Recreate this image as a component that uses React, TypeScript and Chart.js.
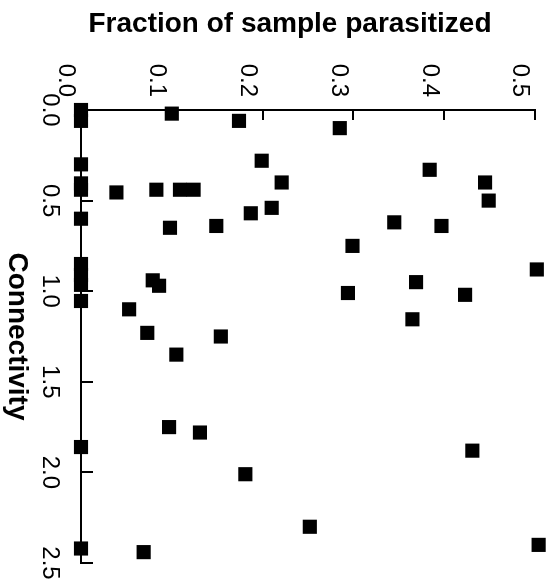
import React, { useEffect, useRef } from "react";
import { Chart, registerables } from "chart.js";

Chart.register(...registerables);

// Connectivity (horizontal axis of the unrotated plot)
const connectivity = [
  0.0, 0.06, 0.3, 0.405, 0.44, 0.6, 0.85, 0.91, 0.965, 1.054, 1.86, 2.42,
  0.02, 0.06, 0.28, 0.4, 0.455, 0.44, 0.44, 0.44, 0.54, 0.57, 0.65, 0.64,
  0.94, 0.97, 1.1, 1.23, 1.25, 1.35, 1.75, 1.78, 2.01, 2.3, 2.44,
  0.1, 0.33, 0.4, 0.5, 0.62, 0.64, 0.75, 0.88, 0.95, 1.01, 1.02, 1.155, 1.88, 2.4,
];

// Fraction of sample parasitized
const fraction = [
  0, 0, 0, 0, 0, 0, 0, 0, 0, 0, 0, 0,
  0.1, 0.174, 0.199, 0.221, 0.039, 0.083, 0.109, 0.124, 0.21, 0.187, 0.098, 0.149,
  0.079, 0.086, 0.053, 0.073, 0.154, 0.105, 0.097, 0.131, 0.181, 0.252, 0.069,
  0.285, 0.384, 0.445, 0.449, 0.345, 0.397, 0.299, 0.502, 0.369, 0.294, 0.423, 0.365, 0.431, 0.504,
];

const connectivityTicks = [0, 0.5, 1.0, 1.5, 2.0, 2.5];
const fractionTicks = [0, 0.1, 0.2, 0.3, 0.4, 0.5];

const xTitle = "Connectivity";
const yTitle = "Fraction of sample parasitized";

const FONT = "'Liberation Sans', Arial, Helvetica, sans-serif";

const decorPlugin = {
  id: "decor",
  afterDraw(chart: any) {
    const ctx = chart.ctx as CanvasRenderingContext2D;
    const xs = chart.scales.x;
    const ys = chart.scales.y;
    const { left, bottom, top } = chart.chartArea;
    ctx.save();
    ctx.strokeStyle = "#000";
    ctx.lineWidth = 2;
    for (const t of xs.ticks) {
      if (t.value === 0) continue;
      const px = Math.round(xs.getPixelForValue(t.value));
      ctx.beginPath();
      ctx.moveTo(px, bottom);
      ctx.lineTo(px, bottom - 12);
      ctx.stroke();
    }
    for (const t of ys.ticks) {
      if (t.value === 0) continue;
      const py = Math.round(ys.getPixelForValue(t.value));
      ctx.beginPath();
      ctx.moveTo(left, py);
      ctx.lineTo(left + 10, py);
      ctx.stroke();
    }
    // y-axis title (rotated)
    ctx.fillStyle = "#000";
    ctx.font = `bold 28px ${FONT}`;
    ctx.textAlign = "center";
    ctx.textBaseline = "alphabetic";
    ctx.translate(32, (top + bottom) / 2 + 18);
    ctx.rotate(-Math.PI / 2);
    ctx.fillText(yTitle, 0, 0);
    ctx.restore();
  },
};

export default function App() {
  const ref = useRef<HTMLCanvasElement | null>(null);

  useEffect(() => {
    if (!ref.current) return;
    const points = connectivity.map((c, i) => ({ x: c, y: fraction[i] }));
    const chart = new Chart(ref.current, {
      type: "scatter",
      data: {
        datasets: [
          {
            data: points,
            pointStyle: "rect",
            pointRadius: 10,
            pointHoverRadius: 10,
            backgroundColor: "#000",
            borderColor: "#000",
            borderWidth: 0,
            clip: false,
          } as any,
        ],
      },
      options: {
        animation: false,
        responsive: false,
        events: [],
        layout: { padding: { top: 11, right: 24, left: 0, bottom: 0 } },
        plugins: {
          legend: { display: false },
          tooltip: { enabled: false },
        },
        scales: {
          x: {
            type: "linear",
            position: "bottom",
            min: 0,
            max: 2.5,
            afterBuildTicks: (s: any) => {
              s.ticks = connectivityTicks.map((v) => ({ value: v }));
            },
            afterFit: (s: any) => {
              s.height = 81;
              s.paddingLeft = 0;
              s.paddingRight = 0;
            },
            grid: { display: false, drawTicks: false },
            border: { display: true, color: "#000", width: 2 },
            ticks: {
              autoSkip: false,
              maxRotation: 0,
              minRotation: 0,
              padding: 17,
              color: "#000",
              font: { family: FONT, size: 24 },
              callback: (v: any) => Number(v).toFixed(1),
            },
            title: {
              display: true,
              text: xTitle,
              color: "#000",
              font: { family: FONT, size: 28, weight: "bold" },
              padding: 0,
            },
          },
          y: {
            type: "linear",
            position: "left",
            min: 0,
            max: 0.5,
            afterBuildTicks: (s: any) => {
              s.ticks = fractionTicks.map((v) => ({ value: v }));
            },
            afterFit: (s: any) => {
              s.width = 110;
              s.paddingTop = 0;
              s.paddingBottom = 0;
            },
            grid: { display: false, drawTicks: false },
            border: { display: true, color: "#000", width: 2 },
            ticks: {
              autoSkip: false,
              padding: 13,
              labelOffset: 15,
              color: "#000",
              font: { family: FONT, size: 24 },
              callback: (v: any) => Number(v).toFixed(1),
            },
            title: { display: false },
          },
        },
      },
      plugins: [decorPlugin],
    });
    return () => chart.destroy();
  }, []);

  return (
    <div
      style={{
        position: "fixed",
        left: 0,
        top: 0,
        width: 546,
        height: 587,
        overflow: "hidden",
        background: "#fff",
      }}
    >
      <div
        style={{
          position: "absolute",
          left: 0,
          top: 0,
          width: 587,
          height: 546,
          transformOrigin: "top left",
          transform: "translateX(546px) rotate(90deg)",
        }}
      >
        <canvas ref={ref} width={587} height={546} style={{ width: 587, height: 546, display: "block" }} />
      </div>
    </div>
  );
}
